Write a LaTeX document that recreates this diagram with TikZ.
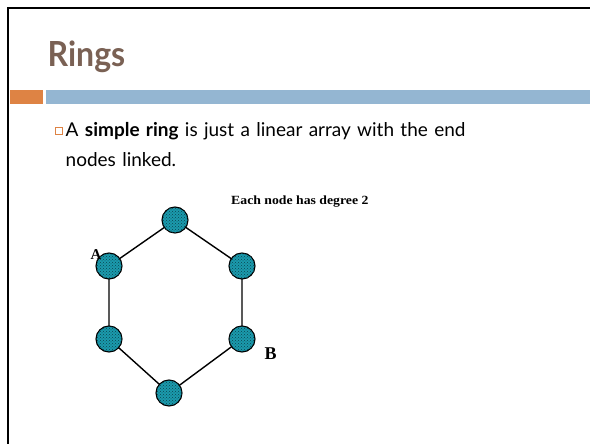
\documentclass[tikz,border=0pt]{standalone}
\usepackage{fontspec}
\usetikzlibrary{patterns,backgrounds}
\setmainfont{Lato}
\newfontfamily\serifbit{Liberation Serif}
\definecolor{titlebrown}{HTML}{7A6154}
\definecolor{accentorange}{HTML}{DE8344}
\definecolor{accentblue}{HTML}{94B6D2}
\definecolor{nodeteal}{HTML}{1B9AAD}
\definecolor{nodegrain}{HTML}{0B4550}
\tikzset{
  ringnode/.style={circle, draw=black, line width=1.1pt, fill=nodeteal,
    minimum width=26pt, inner sep=0pt,
    postaction={pattern=crosshatch dots, pattern color=nodegrain}},
  ringedge/.style={line width=1.4pt, black},
  bitlabel/.style={font=\serifbit\bfseries, inner sep=0pt}
}
\begin{document}
\begin{tikzpicture}[x=1pt, y=-1pt]
  \useasboundingbox (0,0) rectangle (590,444);
  % slide frame
  \draw[line width=2.4pt] (8,444) -- (8,8) -- (590,8);
  % header bars
  \fill[accentorange] (10,90) rectangle (43,104.5);
  \fill[accentblue] (46,90) rectangle (590,104.5);
  % title
  \node[anchor=base west, inner sep=0pt, text=titlebrown, yscale=1.08,
    font=\bfseries\fontsize{32}{36}\selectfont] (title) at (47.5,67) {Rings};
  % bullet
  \draw[accentorange, line width=0.8pt] (55.5,127.5) rectangle (62,134);
  \node[anchor=base west, inner sep=0pt, font=\fontsize{19}{30}\selectfont,
    align=left, text width=440pt] (body) at (65.5,137)
    {A \textbf{simple ring} is just a linear array with the end\\nodes linked.};
  % ring of six nodes
  \node[ringnode] (n1) at (175,220) {};
  \node[ringnode] (n2) at (242,266) {};
  \node[ringnode] (n3) at (242,339) {};
  \node[ringnode] (n4) at (169,393) {};
  \node[ringnode] (n5) at (109,339) {};
  \node[ringnode] (n6) at (109,266) {};
  \begin{scope}[on background layer]
    \draw[ringedge] (n1.center) -- (n2.center) -- (n3.center) -- (n4.center)
      -- (n5.center) -- (n6.center) -- (n1.center);
  \end{scope}
  % labels
  \node[bitlabel, anchor=base west, font=\serifbit\bfseries\fontsize{15}{17}\selectfont]
    (lblA) at (90.5,259.5) {A};
  \node[bitlabel, anchor=base west, font=\serifbit\bfseries\fontsize{18}{20}\selectfont]
    (lblB) at (264.5,359) {B};
  \node[bitlabel, anchor=base west, xscale=1.1,
    font=\serifbit\bfseries\fontsize{12.5}{14}\selectfont]
    (caption) at (231,204.5) {Each node has degree 2};
\end{tikzpicture}
\end{document}
